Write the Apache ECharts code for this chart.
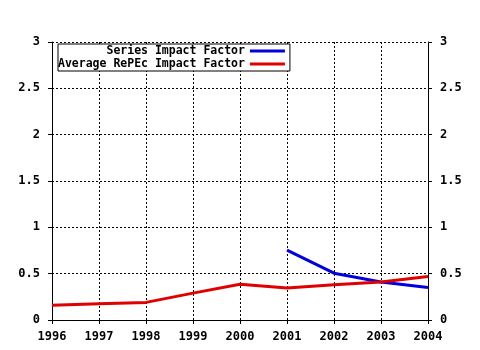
<!DOCTYPE html>
<html><head><meta charset="utf-8">
<script src="https://cdn.jsdelivr.net/npm/echarts@6/dist/echarts.min.js"></script>
<style>html,body{margin:0;padding:0;background:#fff}#c{width:480px;height:350px}</style>
</head><body><div id="c"></div>
<script>
const years = ['1996','1997','1998','1999','2000','2001','2002','2003','2004'];
const seriesIF = [null,null,null,null,null,0.755,0.505,0.41,0.35];
const avgRePEc = [0.16,0.175,0.19,0.29,0.385,0.345,0.38,0.41,0.47];
const yTicks = [0,0.5,1,1.5,2,2.5,3];
const font = {fontFamily:'DejaVu Sans Mono', fontWeight:'bold', fontSize:12, color:'#000'};
const chart = echarts.init(document.getElementById('c'));
const yAxisBase = (pos, grid) => ({
  type:'value', position:pos, min:0, max:3, interval:0.5,
  axisLine:{show:true,lineStyle:{color:'#000',width:1}},
  axisTick:{show:true,length:4,lineStyle:{color:'#000'}},
  axisLabel:Object.assign({margin:12, formatter:v=>String(v)}, font),
  splitLine:{show:grid,lineStyle:{color:'#000',type:[2,2],width:1}}
});
chart.setOption({
  animation:false,
  backgroundColor:'#fff',
  grid:{left:52,right:52,top:42,bottom:30,show:false},
  legend:{
    left:58, top:44, orient:'vertical', align:'right',
    itemWidth:35, itemHeight:3, itemGap:1,
    padding:[1,5,1,0],
    borderColor:'#000', borderWidth:1, backgroundColor:'#fff',
    icon:'rect', z:10,
    textStyle:Object.assign({}, font, {fontSize:11.5, width:187, align:'right'}),
    data:['Series Impact Factor','Average RePEc Impact Factor']
  },
  xAxis:[{
    type:'category', data:years, boundaryGap:false,
    axisLine:{lineStyle:{color:'#000'}},
    axisTick:{show:true,length:4,lineStyle:{color:'#000'}},
    minorTick:{show:true,length:3},
    axisLabel:Object.assign({margin:11}, font),
    splitLine:{show:true,lineStyle:{color:'#000',type:[2,2]}}
  },{
    type:'category', data:years, boundaryGap:false, position:'top',
    axisLine:{show:true,lineStyle:{color:'#000'}},
    axisTick:{show:true,inside:true,length:3,lineStyle:{color:'#000'}},
    axisLabel:{show:false}, splitLine:{show:false}
  }],
  yAxis:[yAxisBase('left',true), yAxisBase('right',false)],
  series:[
    {name:'Series Impact Factor', type:'line', data:seriesIF, symbol:'none',
     lineStyle:{color:'#0000e0',width:3}, itemStyle:{color:'#0000e0'}},
    {name:'Average RePEc Impact Factor', type:'line', data:avgRePEc, symbol:'none',
     lineStyle:{color:'#e00000',width:3}, itemStyle:{color:'#e00000'}}
  ]
});
</script></body></html>
